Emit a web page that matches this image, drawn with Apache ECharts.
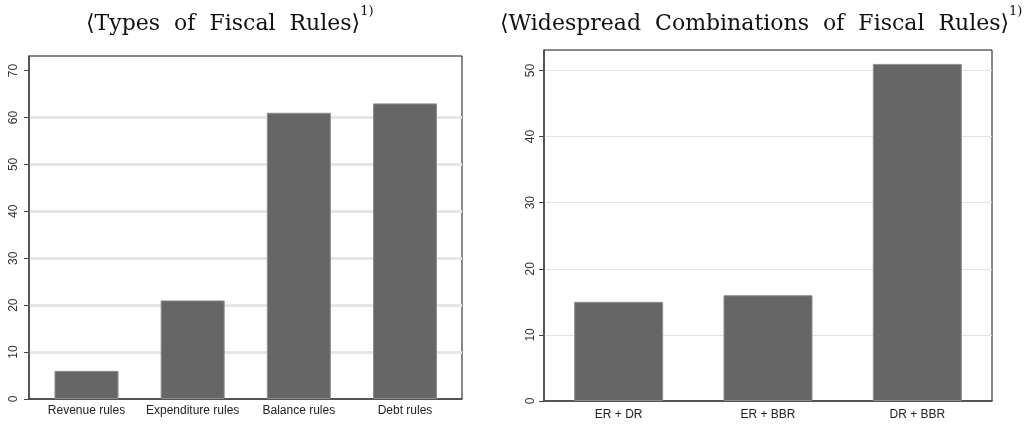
<!DOCTYPE html>
<html>
<head>
<meta charset="utf-8">
<script src="https://cdn.jsdelivr.net/npm/echarts@6/dist/echarts.min.js"></script>
<style>
html,body{margin:0;padding:0;background:#fff;}
#chart{width:1030px;height:424px;}
</style>
</head>
<body>
<div id="chart"></div>
<script>
const leftCategories = ['Revenue rules', 'Expenditure rules', 'Balance rules', 'Debt rules'];
const leftValues = [6, 21, 61, 63];
const leftTicks = [0, 10, 20, 30, 40, 50, 60, 70];
const leftMax = 73.1;

const rightCategories = ['ER + DR', 'ER + BBR', 'DR + BBR'];
const rightValues = [15, 16, 51];
const rightTicks = [0, 10, 20, 30, 40, 50];
const rightMax = 53.1;

const leftTitleWords = ['Types', 'of', 'Fiscal', 'Rules'];
const rightTitleWords = ['Widespread', 'Combinations', 'of', 'Fiscal', 'Rules'];
const footnote = '1)';

const chart = echarts.init(document.getElementById('chart'), null, {renderer: 'canvas'});

const TF = 'DejaVu Serif';
const titleRich = {
  b: {fontFamily: 'DejaVu Sans', fontSize: 22, fontWeight: 'normal', color: '#111', lineHeight: 30, verticalAlign: 'bottom'},
  w: {fontFamily: TF, fontSize: 22, fontWeight: 'normal', color: '#111', lineHeight: 30, verticalAlign: 'bottom'},
  sp: {fontFamily: TF, fontSize: 22, fontWeight: 'normal', width: 14, lineHeight: 30, verticalAlign: 'bottom'},
  s: {fontFamily: TF, fontSize: 13, fontWeight: 'normal', color: '#111', lineHeight: 30, verticalAlign: 'top', padding: [0, 0, 0, 0]}
};
function titleText(words) {
  return '{b|\u27E8}' + words.map(w => '{w|' + w + '}').join('{sp| }') + '{b|\u27E9}{s|' + footnote + '}';
}

function yFrame(gridIndex, max, ticks, gridColors, gridWidth, margin) {
  return {
    gridIndex: gridIndex, type: 'value', min: 0, max: max, interval: 10,
    axisLine: {show: true, lineStyle: {color: '#444', width: 1.5}},
    axisTick: {show: true, length: 5, lineStyle: {color: '#444'}, customValues: ticks},
    axisLabel: {show: true, rotate: 90, margin: margin, fontFamily: 'Liberation Sans', fontSize: 12, color: '#333', customValues: ticks},
    splitLine: {show: true, lineStyle: {color: gridColors, width: gridWidth}}
  };
}
function yHidden(gridIndex, max) {
  return {gridIndex: gridIndex, type: 'value', min: 0, max: max, show: false, splitLine: {show: false}};
}
function xFrame(gridIndex) {
  return {gridIndex: gridIndex, type: 'value', min: 0, max: 1,
    axisLine: {show: true, onZero: false, lineStyle: {color: '#444', width: 1.5}},
    axisTick: {show: false}, axisLabel: {show: false}, splitLine: {show: false}};
}
function xCat(gridIndex, cats, margin) {
  return {gridIndex: gridIndex, type: 'category', data: cats,
    axisLine: {show: false}, axisTick: {show: false},
    axisLabel: {show: true, margin: margin, fontFamily: 'Liberation Sans', fontSize: 12, color: '#222', interval: 0},
    splitLine: {show: false}};
}

const lg = '#e6e6e6', rg = '#e2e2e2', none = 'rgba(0,0,0,0)';

chart.setOption({
  animation: false,
  backgroundColor: '#fff',
  title: [
    {text: titleText(leftTitleWords), left: 81, top: 0, textStyle: {rich: titleRich}},
    {text: titleText(rightTitleWords), left: 495, top: 0, textStyle: {rich: titleRich}}
  ],
  grid: [
    {left: 29, top: 56, width: 433, height: 343, show: true, borderColor: '#111', borderWidth: 1, backgroundColor: '#fff'},
    {left: 33.4, top: 56, width: 424.7, height: 343},
    {left: 544, top: 50, width: 448, height: 351, show: true, borderColor: '#111', borderWidth: 1, backgroundColor: '#fff'},
    {left: 544, top: 50, width: 448, height: 351}
  ],
  xAxis: [xFrame(0), xCat(1, leftCategories, 6), xFrame(2), xCat(3, rightCategories, 8)],
  yAxis: [
    yFrame(0, leftMax, leftTicks, [none, lg, lg, lg, lg, lg, lg, none, none], 3, 9),
    yHidden(1, leftMax),
    yFrame(2, rightMax, rightTicks, [none, rg, rg, rg, rg, rg, none], 1, 7),
    yHidden(3, rightMax)
  ],
  series: [
    {type: 'bar', xAxisIndex: 1, yAxisIndex: 1, data: leftValues, barWidth: 64,
     itemStyle: {color: '#666666', borderColor: '#8c8c8c', borderWidth: 1}},
    {type: 'bar', xAxisIndex: 3, yAxisIndex: 3, data: rightValues, barWidth: 89,
     itemStyle: {color: '#666666', borderColor: '#8c8c8c', borderWidth: 1}}
  ]
});
</script>
</body>
</html>
